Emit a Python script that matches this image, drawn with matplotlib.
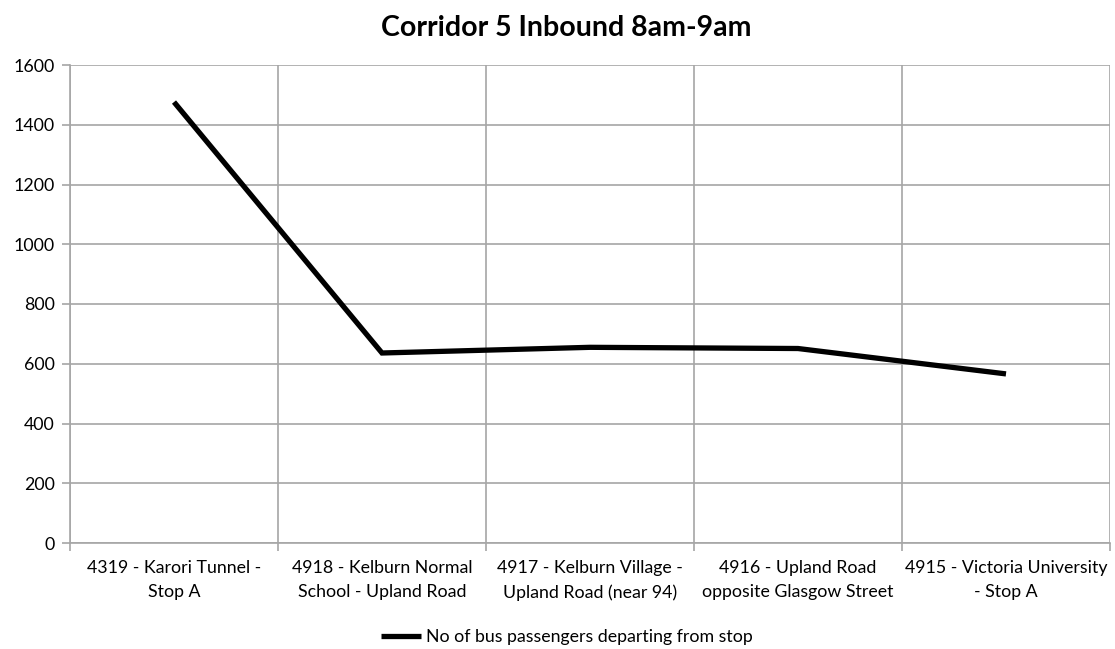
import matplotlib
matplotlib.use("Agg")
import matplotlib.pyplot as plt
from matplotlib.ticker import FixedLocator, NullFormatter

stops = [
    "4319 - Karori Tunnel -\nStop A",
    "4918 - Kelburn Normal\nSchool - Upland Road",
    "4917 - Kelburn Village -\nUpland Road (near 94)",
    "4916 - Upland Road\nopposite Glasgow Street",
    "4915 - Victoria University\n- Stop A",
]
passengers = [1476, 636, 655, 651, 566]
series_name = "No of bus passengers departing from stop"
title = "Corridor 5 Inbound 8am-9am"
y_ticks = [0, 200, 400, 600, 800, 1000, 1200, 1400, 1600]

plt.rcParams["font.family"] = ["Lato", "DejaVu Sans"]

W, H = 1115, 649
fig = plt.figure(figsize=(W / 100, H / 100), dpi=100)
ax = fig.add_axes([70 / W, (H - 543) / H, 1040 / W, 478 / H])

grid_c = "#a6a6a6"
x = list(range(len(stops)))
line, = ax.plot(x, passengers, color="black", lw=3.8, solid_joinstyle="miter",
                solid_capstyle="butt", label=series_name, zorder=3)

ax.set_xlim(-0.5, len(stops) - 0.5)
ax.set_ylim(0, 1600)
ax.set_yticks(y_ticks)
ax.set_xticks(x)
ax.set_xticklabels(stops, fontsize=12.8, linespacing=1.62)
ax.xaxis.set_minor_locator(FixedLocator([i - 0.5 for i in range(len(stops) + 1)]))
ax.xaxis.set_minor_formatter(NullFormatter())
ax.tick_params(axis="x", which="major", length=0, pad=12)
ax.tick_params(axis="x", which="minor", length=6, color=grid_c, width=1.2)
ax.tick_params(axis="y", length=6, color=grid_c, width=1.2, labelsize=12.8, pad=5)

ax.grid(axis="y", which="major", color=grid_c, lw=1.2)
ax.grid(axis="x", which="minor", color=grid_c, lw=1.2)
for s in ["top", "right"]:
    ax.spines[s].set_visible(False)
for s in ["left", "bottom"]:
    ax.spines[s].set_color(grid_c)
    ax.spines[s].set_linewidth(1.2)

fig.text(566 / W, 1 - 28 / H, title, ha="center", va="center",
         fontsize=20.5, fontweight="bold")

fig.legend(handles=[line], loc="center", bbox_to_anchor=(567 / W, 1 - 637 / H),
           frameon=False, fontsize=12.8, handlelength=2.2, handletextpad=0.3,
           borderpad=0)

fig.savefig("out.png", dpi=100)
